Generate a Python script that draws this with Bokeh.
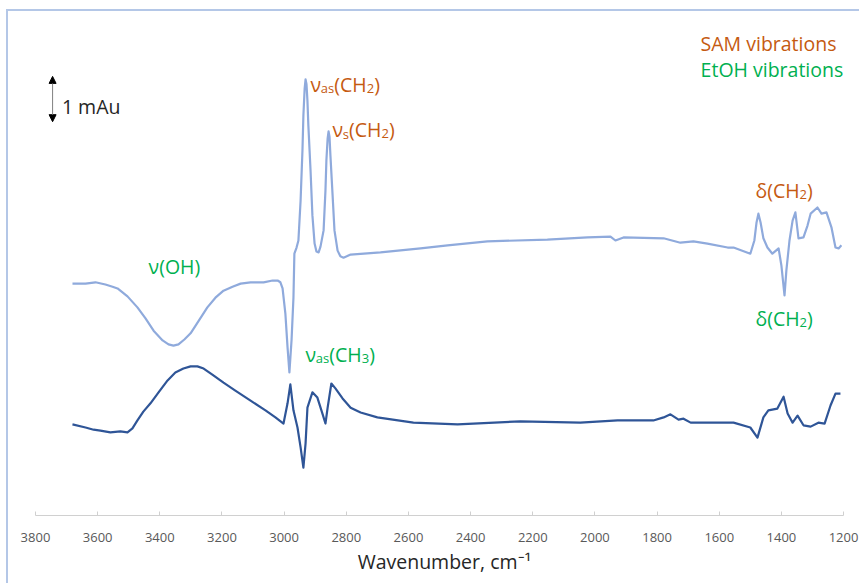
from bokeh.plotting import figure
from bokeh.models import Range1d, FixedTicker, Arrow, NormalHead, ColumnDataSource
from bokeh.core.properties import value
from bokeh.embed import file_html
from bokeh.resources import INLINE

# ---- data (wavenumber in cm-1, signal in mAu, arbitrary offset) ----
top_wn = [3681, 3639, 3607, 3575, 3552, 3536, 3504, 3472, 3446, 3420, 3391, 3372,
          3356, 3340, 3321, 3301, 3276, 3247, 3221, 3195, 3166, 3140, 3108, 3066,
          3037, 3021, 3012, 3005, 2996, 2989, 2983, 2976, 2970, 2967, 2960, 2954,
          2947, 2941, 2938, 2934, 2931, 2928, 2925, 2922, 2915, 2909, 2902, 2896,
          2889, 2883, 2873, 2867, 2864, 2860, 2857, 2854, 2851, 2844, 2838, 2828,
          2819, 2809, 2786, 2690, 2561, 2474, 2346, 2153, 2024, 1950, 1934, 1908,
          1779, 1725, 1683, 1638, 1573, 1554, 1500, 1487, 1480, 1474, 1467, 1458,
          1445, 1429, 1409, 1400, 1390, 1384, 1374, 1364, 1355, 1345, 1329, 1316,
          1306, 1284, 1271, 1255, 1239, 1226, 1216, 1207]
top_mau = [5.27, 5.27, 5.30, 5.25, 5.20, 5.16, 4.98, 4.73, 4.48, 4.20, 3.98, 3.89,
           3.86, 3.89, 4.00, 4.14, 4.41, 4.73, 4.95, 5.11, 5.20, 5.27, 5.30, 5.30,
           5.34, 5.34, 5.30, 5.16, 4.59, 3.82, 3.25, 4.00, 4.95, 5.95, 6.09, 6.25,
           7.16, 8.30, 9.09, 9.70, 9.91, 9.80, 9.43, 8.86, 7.84, 6.82, 6.18, 6.00,
           5.98, 6.11, 6.48, 7.39, 8.07, 8.57, 8.73, 8.61, 8.18, 7.27, 6.48, 6.02,
           5.89, 5.86, 5.93, 5.98, 6.07, 6.14, 6.23, 6.27, 6.32, 6.34, 6.25, 6.32,
           6.30, 6.20, 6.23, 6.18, 6.09, 6.09, 5.95, 6.25, 6.66, 6.86, 6.66, 6.30,
           6.09, 5.95, 6.07, 5.68, 5.00, 5.57, 6.25, 6.70, 6.89, 6.30, 6.32, 6.59,
           6.86, 7.00, 6.86, 6.89, 6.55, 6.09, 6.07, 6.14]

bot_wn = [3681, 3639, 3613, 3591, 3559, 3527, 3504, 3488, 3472, 3453, 3430, 3404,
          3375, 3350, 3324, 3301, 3279, 3259, 3231, 3195, 3157, 3108, 3060, 3028,
          3002, 2989, 2980, 2970, 2957, 2947, 2938, 2931, 2925, 2909, 2893, 2877,
          2867, 2860, 2848, 2835, 2812, 2786, 2754, 2700, 2584, 2442, 2240, 2047,
          1927, 1812, 1779, 1757, 1731, 1715, 1692, 1618, 1554, 1500, 1477, 1458,
          1442, 1413, 1393, 1380, 1364, 1348, 1329, 1306, 1281, 1261, 1242, 1226, 1210]
bot_mau = [2.07, 2.00, 1.95, 1.93, 1.89, 1.91, 1.89, 1.98, 2.16, 2.36, 2.55, 2.80,
           3.07, 3.25, 3.34, 3.39, 3.39, 3.34, 3.20, 3.02, 2.84, 2.61, 2.39, 2.23,
           2.09, 2.55, 2.98, 2.39, 2.00, 1.55, 1.09, 1.64, 2.45, 2.80, 2.68, 2.32,
           2.09, 2.45, 3.00, 2.89, 2.66, 2.45, 2.34, 2.23, 2.11, 2.07, 2.14, 2.11,
           2.16, 2.16, 2.23, 2.30, 2.18, 2.20, 2.11, 2.11, 2.11, 2.00, 1.77, 2.23,
           2.39, 2.43, 2.70, 2.32, 2.11, 2.27, 2.05, 2.02, 2.11, 2.09, 2.50, 2.77, 2.77]

tick_values = [3800, 3600, 3400, 3200, 3000, 2800, 2600, 2400, 2200, 2000, 1800, 1600, 1400, 1200]

SAM = "#C55A11"
ETOH = "#00B050"
FONT = "Open Sans"
MAIN = 19.5
SUB = 13.0

# annotation texts: segments (text, is_subscript), anchor wavenumber, anchor mAu, colour
labels = [
    ([("SAM vibrations", False)], 1660, 10.73, SAM),
    ([("EtOH vibrations", False)], 1660, 10.14, ETOH),
    ([("1 mAu", False)], 3715, 9.30, "#262626"),
    ([("ν", False), ("as", True), ("(CH", False), ("2", True), (")", False)], 2915, 9.80, SAM),
    ([("ν", False), ("s", True), ("(CH", False), ("2", True), (")", False)], 2844, 8.77, SAM),
    ([("ν(OH)", False)], 3436, 5.66, ETOH),
    ([("ν", False), ("as", True), ("(CH", False), ("3", True), (")", False)], 2931, 3.66, ETOH),
    ([("δ(CH", False), ("2", True), (")", False)], 1483, 7.39, SAM),
    ([("δ(CH", False), ("2", True), (")", False)], 1483, 4.48, ETOH),
]

# approximate advance widths (em) used to chain sub/normal text pieces
W = {"ν": 0.52, "δ": 0.58, "(": 0.30, ")": 0.30, "C": 0.63, "H": 0.74, "O": 0.78,
     "a": 0.56, "s": 0.48, "2": 0.57, "3": 0.57}


def seg_width(t, size):
    return sum(W.get(c, 0.55) for c in t) * size


rows = dict(x=[], y=[], text=[], xo=[], yo=[], size=[], color=[])
for segs, x, y, color in labels:
    off = 0.0
    for t, sub in segs:
        size = SUB if sub else MAIN
        rows["x"].append(x)
        rows["y"].append(y)
        rows["text"].append(t)
        rows["xo"].append(off)
        rows["yo"].append(4 if sub else 0)
        rows["size"].append(f"{size}px")
        rows["color"].append(color)
        off += seg_width(t, size)

p = figure(width=853, height=574,
           x_range=Range1d(3825.7, 1142.3), y_range=Range1d(0, 11.4545),
           output_backend="svg", toolbar_location=None,
           y_axis_location=None,
           min_border_left=19, min_border_right=0, min_border_top=0, min_border_bottom=70)
p.styles = {"margin-left": "6px", "margin-top": "9px",
            "border-left": "2px solid #B4C7E7", "border-top": "2px solid #B4C7E7"}
p.xgrid.visible = False
p.ygrid.visible = False
p.outline_line_color = None
p.background_fill_color = "white"
p.border_fill_color = "white"

ax = p.xaxis[0]
ax.ticker = FixedTicker(ticks=tick_values)
ax.bounds = (1200, 3800)
ax.axis_line_color = "#D0D0D0"
ax.axis_line_width = 1.2
ax.major_tick_line_color = "#D0D0D0"
ax.major_tick_in = 4
ax.major_tick_out = 0
ax.minor_tick_line_color = None
ax.major_label_text_font = FONT
ax.major_label_text_font_size = "13px"
ax.major_label_text_color = "#595959"
ax.major_label_standoff = 17
ax.axis_label = "Wavenumber, cm⁻¹"
ax.axis_label_text_font = FONT
ax.axis_label_text_font_size = "19.5px"
ax.axis_label_text_font_style = "normal"
ax.axis_label_text_color = "#262626"
ax.axis_label_standoff = 3

p.line(top_wn, top_mau, line_color="#8FAADC", line_width=2.2, line_join="round")
p.line(bot_wn, bot_mau, line_color="#2F5597", line_width=2.2, line_join="round")

p.text(x="x", y="y", text="text", x_offset="xo", y_offset="yo",
       text_font_size="size", text_color="color", text_font=value(FONT),
       text_align="left", text_baseline="alphabetic", source=ColumnDataSource(rows))

p.add_layout(Arrow(x_start=3745, y_start=8.95, x_end=3745, y_end=9.98,
                   line_color="#808080", line_width=1,
                   start=NormalHead(size=7, fill_color="black", line_color="black"),
                   end=NormalHead(size=7, fill_color="black", line_color="black")))

open("out.html", "w").write(file_html(p, INLINE))
